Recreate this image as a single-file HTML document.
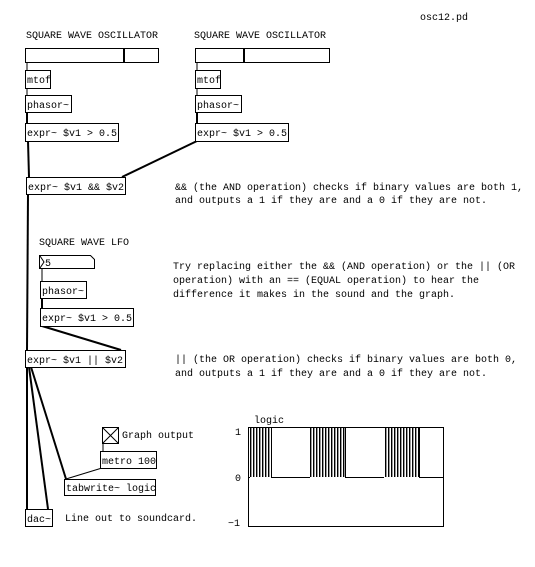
<!DOCTYPE html>
<html><head><meta charset="utf-8"><style>
html,body{margin:0;padding:0;background:#fff;}
svg{display:block;}
text{font-family:"Liberation Mono","DejaVu Sans Mono",monospace;font-size:10px;fill:#000;}
.b{fill:#fff;stroke:#000;stroke-width:1;}
.s{stroke:#000;stroke-width:2;fill:none;}
.t{stroke:#000;stroke-width:1;fill:none;}
</style></head><body>
<svg width="535" height="567" viewBox="0 0 535 567" xmlns="http://www.w3.org/2000/svg">
<rect width="535" height="567" fill="#fff"/>
<text x="420" y="20">osc12.pd</text>
<line class="t" x1="27" y1="62" x2="27" y2="70"/>
<line class="t" x1="27" y1="88" x2="27" y2="95"/>
<line class="s" x1="27" y1="112" x2="27" y2="123"/>
<line class="t" x1="197" y1="62" x2="197" y2="70"/>
<line class="t" x1="197" y1="88" x2="197" y2="95"/>
<line class="s" x1="197" y1="112" x2="197" y2="123"/>
<line class="s" x1="28" y1="141" x2="29" y2="177"/>
<line class="s" x1="197" y1="141" x2="122" y2="177"/>
<line class="s" x1="28" y1="194" x2="27" y2="350"/>
<line class="t" x1="42" y1="268" x2="42" y2="281"/>
<line class="s" x1="42" y1="298" x2="42" y2="308"/>
<line class="s" x1="42" y1="326" x2="121" y2="350"/>
<line class="s" x1="27" y1="367" x2="27" y2="509"/>
<line class="s" x1="29" y1="367" x2="48" y2="509"/>
<line class="s" x1="31" y1="367" x2="66" y2="479"/>
<line class="t" x1="103" y1="443" x2="103" y2="451"/>
<line class="t" x1="102" y1="468" x2="66" y2="479"/>
<text x="26" y="38">SQUARE WAVE OSCILLATOR</text>
<rect class="b" x="25.5" y="48.5" width="133" height="14"/>
<rect x="123" y="49" width="2" height="13" fill="#000"/>
<rect class="b" x="25.5" y="70.5" width="25" height="18"/><text x="27" y="83">mtof</text>
<rect class="b" x="25.5" y="95.5" width="46" height="17"/><text x="27" y="108">phasor~</text>
<rect class="b" x="25.5" y="123.5" width="93" height="18"/><text x="27" y="136">expr~ $v1 &gt; 0.5</text>
<text x="194" y="38">SQUARE WAVE OSCILLATOR</text>
<rect class="b" x="195.5" y="48.5" width="134" height="14"/>
<rect x="243" y="49" width="2" height="13" fill="#000"/>
<rect class="b" x="195.5" y="70.5" width="25" height="18"/><text x="197" y="83">mtof</text>
<rect class="b" x="195.5" y="95.5" width="46" height="17"/><text x="197" y="108">phasor~</text>
<rect class="b" x="195.5" y="123.5" width="93" height="18"/><text x="197" y="136">expr~ $v1 &gt; 0.5</text>
<rect class="b" x="26.5" y="177.5" width="99" height="17"/><text x="28" y="190">expr~ $v1 &amp;&amp; $v2</text>
<text x="175" y="190">&amp;&amp; (the AND operation) checks if binary values are both 1,</text>
<text x="175" y="203">and outputs a 1 if they are and a 0 if they are not.</text>
<text x="39" y="245">SQUARE WAVE LFO</text>
<path class="b" d="M39.5 255.5 H90.5 L94.5 259.5 V268.5 H39.5 Z"/>
<path class="t" d="M40 256 L44 262 L40 268"/><text x="45" y="266">5</text>
<rect class="b" x="40.5" y="281.5" width="46" height="17"/><text x="42" y="294">phasor~</text>
<rect class="b" x="40.5" y="308.5" width="93" height="18"/><text x="42" y="321">expr~ $v1 &gt; 0.5</text>
<text x="173" y="269">Try replacing either the &amp;&amp; (AND operation) or the || (OR</text>
<text x="173" y="283">operation) with an == (EQUAL operation) to hear the</text>
<text x="173" y="297">difference it makes in the sound and the graph.</text>
<rect class="b" x="25.5" y="350.5" width="100" height="17"/><text x="27" y="363">expr~ $v1 || $v2</text>
<text x="175" y="362">|| (the OR operation) checks if binary values are both 0,</text>
<text x="175" y="376">and outputs a 1 if they are and a 0 if they are not.</text>
<rect class="b" x="102.5" y="427.5" width="16" height="16"/>
<path class="t" d="M103 428 L118 443 M118 428 L103 443"/>
<text x="122" y="438">Graph output</text>
<rect class="b" x="100.5" y="451.5" width="56" height="17"/><text x="102" y="464">metro 100</text>
<rect class="b" x="64.5" y="479.5" width="91" height="16"/><text x="66" y="491">tabwrite~ logic</text>
<rect class="b" x="25.5" y="509.5" width="27" height="17"/><text x="27" y="522">dac~</text>
<text x="65" y="521">Line out to soundcard.</text>
<text x="254" y="423">logic</text>
<rect class="b" x="248.5" y="427.5" width="195" height="99"/>
<text x="235" y="435">1</text><text x="235" y="481">0</text><text x="228" y="526">−1</text>
<defs>
<pattern id="p" x="250" y="0" width="3" height="60" patternUnits="userSpaceOnUse">
<rect x="0" y="0" width="1" height="60" fill="#000"/>
<rect x="1" y="0" width="1" height="60" fill="#999"/>
</pattern>
</defs>
<g fill="url(#p)">
<rect x="250" y="428" width="21" height="49"/>
<rect x="310" y="428" width="35" height="49"/>
<rect x="384" y="428" width="35" height="49"/>
</g>
<path class="t" d="M249 477.5 H250 M271.5 428 V477.5 H310 M345.5 428 V477.5 H384 M419.5 428 V477.5 H443"/>
</svg>
</body></html>
